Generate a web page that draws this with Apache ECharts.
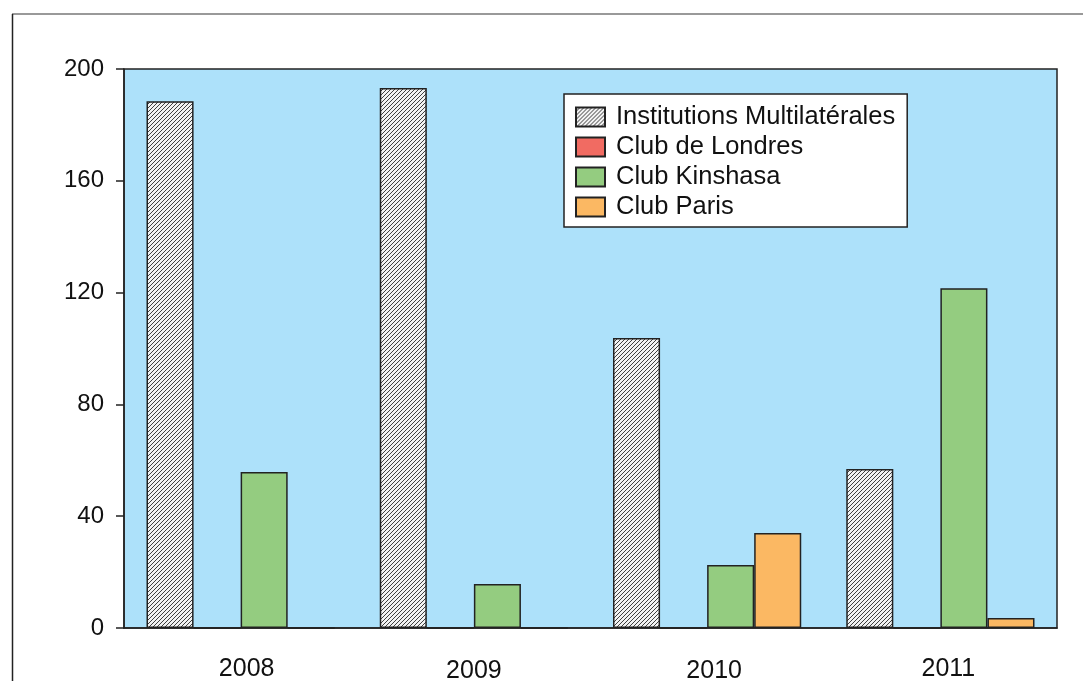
<!DOCTYPE html>
<html>
<head>
<meta charset="utf-8">
<script src="https://cdn.jsdelivr.net/npm/echarts@6/dist/echarts.min.js"></script>
<style>
html,body{margin:0;padding:0;background:#fff;}
#chart{width:1083px;height:681px;}
</style>
</head>
<body>
<div id="chart"></div>
<script>
const categories = ['2008', '2009', '2010', '2011'];
const seriesNames = ['Institutions Multilatérales', 'Club de Londres', 'Club Kinshasa', 'Club Paris'];
const institutions = [188.5, 193.2, 103.8, 56.9];
const clubLondres = [0, 0, 0, 0];
const clubKinshasa = [55.8, 15.7, 22.5, 121.6];
const clubParis = [0, 0, 34.0, 3.6];
const yTicks = [0, 40, 80, 120, 160, 200];

function hatch() {
  const c = document.createElement('canvas');
  c.width = 4; c.height = 4;
  const g = c.getContext('2d');
  g.fillStyle = '#f2f2f2';
  g.fillRect(0, 0, 4, 4);
  g.strokeStyle = '#2a2a2a';
  g.lineWidth = 0.9;
  g.beginPath();
  g.moveTo(-1, 5); g.lineTo(5, -1);
  g.moveTo(-1, 1); g.lineTo(1, -1);
  g.moveTo(3, 5); g.lineTo(5, 3);
  g.stroke();
  return { image: c, repeat: 'repeat' };
}

const colors = [hatch(), '#F16B62', '#94CC80', '#FBB863'];
const values = [institutions, clubLondres, clubKinshasa, clubParis];

const chart = echarts.init(document.getElementById('chart'), null, { renderer: 'canvas' });
const font = '"Liberation Sans", Arial, sans-serif';

const labelRich = {
  c0: { fontSize: 25, color: '#111', fontFamily: font, padding: [0, 0, 0, 12] },
  c1: { fontSize: 25, color: '#111', fontFamily: font, padding: [2, 0, 0, 0] },
  c2: { fontSize: 25, color: '#111', fontFamily: font, padding: [2, 0, 0, 14] },
  c3: { fontSize: 25, color: '#111', fontFamily: font, padding: [0, 0, 0, 16] }
};

chart.setOption({
  animation: false,
  textStyle: { fontFamily: font },
  grid: {
    left: 124, right: 26, top: 69, bottom: 53,
    containLabel: false,
    outerBoundsMode: 'none',
    show: true, backgroundColor: '#ADE1FA', borderColor: '#222', borderWidth: 1.5
  },
  legend: {
    orient: 'vertical',
    left: 564, top: 94,
    backgroundColor: '#fff',
    borderColor: '#222', borderWidth: 1.5,
    padding: [10, 12, 7, 11],
    itemWidth: 29, itemHeight: 19, itemGap: 4,
    icon: 'rect',
    textStyle: { fontSize: 25.5, color: '#111', fontFamily: font, padding: [0, 0, 0, 6] },
    data: seriesNames
  },
  xAxis: {
    type: 'category',
    data: categories,
    axisLine: { lineStyle: { color: '#222', width: 1.5 } },
    axisTick: { show: false },
    axisLabel: {
      margin: 29,
      formatter: (value, index) => '{c' + index + '|' + value + '}',
      rich: labelRich
    }
  },
  yAxis: {
    type: 'value',
    min: yTicks[0], max: yTicks[yTicks.length - 1], interval: 40,
    splitLine: { show: false },
    axisLine: { show: true, lineStyle: { color: '#222', width: 1.5 } },
    axisTick: { show: true, length: 8, lineStyle: { color: '#222', width: 1.5 } },
    axisLabel: { fontSize: 24, color: '#111', margin: 20, fontFamily: font }
  },
  series: seriesNames.map((name, i) => ({
    name: name,
    type: 'bar',
    data: values[i],
    barGap: '0%',
    barCategoryGap: '19.3%',
    itemStyle: { color: colors[i], borderColor: '#222', borderWidth: 1.5 }
  })),
  graphic: [
    { type: 'line', shape: { x1: 12, y1: 14, x2: 1083, y2: 14 }, style: { stroke: '#777', lineWidth: 1.5 }, silent: true },
    { type: 'line', shape: { x1: 12.5, y1: 14, x2: 12.5, y2: 681 }, style: { stroke: '#222', lineWidth: 1.5 }, silent: true }
  ]
});
</script>
</body>
</html>
